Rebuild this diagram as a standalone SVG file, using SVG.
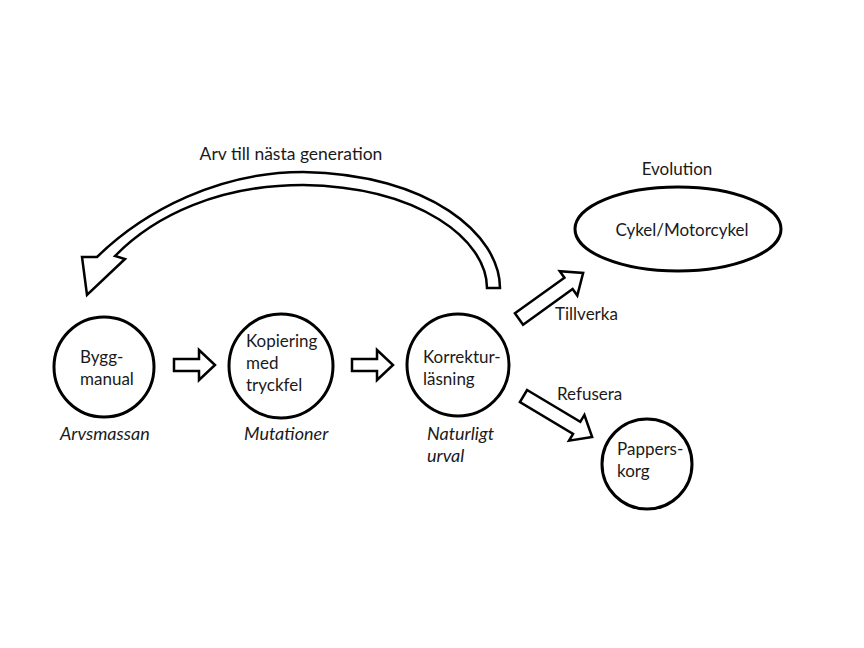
<svg xmlns="http://www.w3.org/2000/svg" width="864" height="648" viewBox="0 0 864 648">
<style>
.n{fill:#fff;stroke:#000;stroke-width:3}
.a{fill:#fff;stroke:#000;stroke-width:2.5;stroke-linejoin:miter}
text{font-family:Lato,"Liberation Sans",sans-serif;font-size:17px;fill:#1a1a1a}
.i{font-style:italic;font-size:18px}
.t{font-size:17.5px}
</style>
<rect width="864" height="648" fill="#fff"/>
<g id="connectors">
<path class="a" d="M 487 288 L 500 288 C 500 235, 430 174, 303 172 C 220 172, 145 210, 97 257 L 82 257 L 87 295 L 125 259 L 115 256 C 155 215, 220 185, 303 185 C 420 187, 487 240, 487 288 Z"/>
<polygon class="a" transform="translate(174,365)" points="0,-6 25,-6 25,-15 41,0 25,15 25,6 0,6"/>
<polygon class="a" transform="translate(352,365)" points="0,-6 25,-6 25,-15 41,0 25,15 25,6 0,6"/>
<polygon class="a" transform="translate(519,319) rotate(-35.7)" points="0,-7 61,-7 61,-15 79,0 61,15 61,7 0,7"/>
<polygon class="a" transform="translate(523.5,396) rotate(30.9)" points="0,-7 62,-7 62,-15 80,0 62,15 62,7 0,7"/>
<text class="t" x="291" y="160" text-anchor="middle">Arv till nästa generation</text>
<text x="555" y="320">Tillverka</text>
<text x="557" y="400">Refusera</text>
</g>
<g id="byggmanual">
<circle class="n" cx="104" cy="367" r="50"/>
<text x="80" y="363">Bygg-</text>
<text x="80" y="385">manual</text>
<text class="i" x="60" y="440">Arvsmassan</text>
</g>
<g id="kopiering">
<circle class="n" cx="281" cy="366" r="52"/>
<text x="246" y="347">Kopiering</text>
<text x="246" y="369">med</text>
<text x="246" y="391">tryckfel</text>
<text class="i" x="244" y="440">Mutationer</text>
</g>
<g id="korrektur">
<circle class="n" cx="458" cy="365" r="51"/>
<text x="423" y="363">Korrektur-</text>
<text x="423" y="385">läsning</text>
<text class="i" x="427" y="440">Naturligt</text>
<text class="i" x="427" y="462">urval</text>
</g>
<g id="cykel">
<ellipse class="n" cx="678" cy="229" rx="103" ry="42"/>
<text x="682" y="236" text-anchor="middle">Cykel/Motorcykel</text>
<text x="677" y="175" text-anchor="middle">Evolution</text>
</g>
<g id="papperskorg">
<circle class="n" cx="647" cy="464" r="45"/>
<text x="617" y="455">Pappers-</text>
<text x="617" y="477">korg</text>
</g>
</svg>
